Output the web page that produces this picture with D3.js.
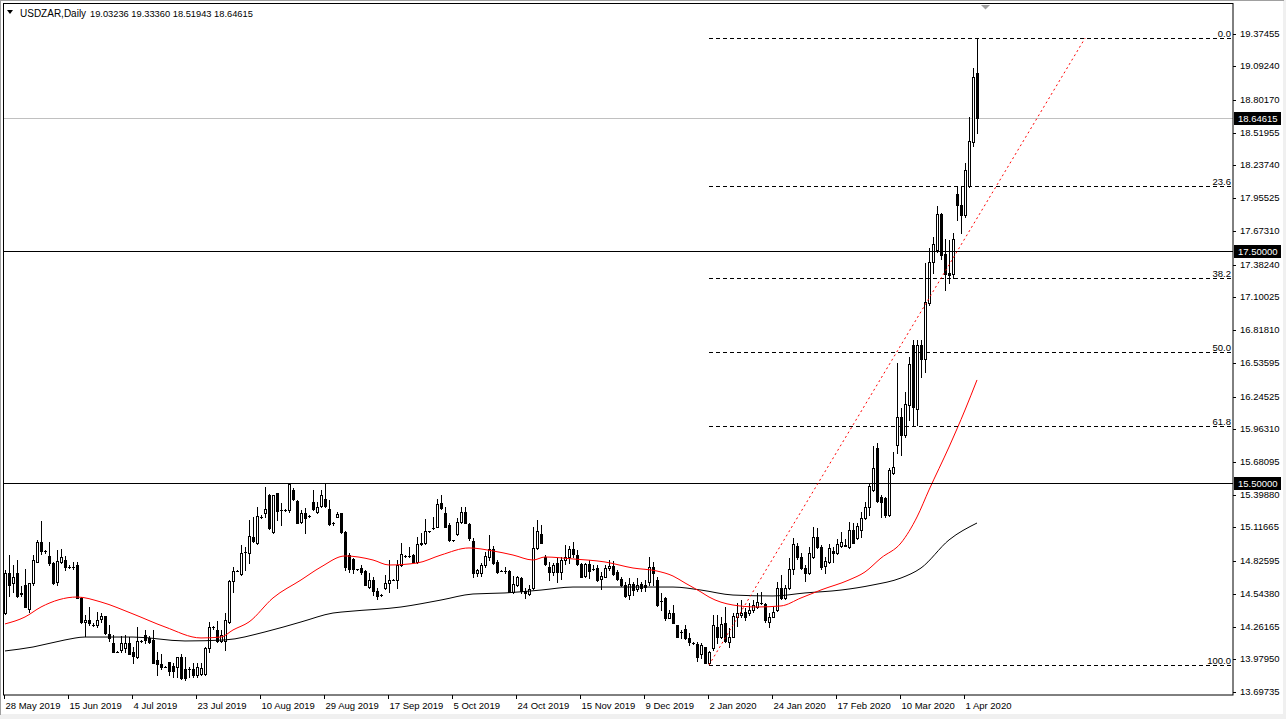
<!DOCTYPE html>
<html><head><meta charset="utf-8">
<script src="https://cdn.jsdelivr.net/npm/d3@7"></script>
<style>html,body{margin:0;padding:0;background:#f0f0f0;overflow:hidden}text{font-family:"Liberation Sans",Arial,sans-serif}</style>
</head><body><svg id="c" width="1286" height="719"></svg>
<script>
// ---- data ----
const symbolName = "USDZAR,Daily";
const titleOHLC = ["19.03236","19.33360","18.51943","18.64615"];
const opens = [14.38,14.72,14.64,14.72,14.54,14.62,14.41,14.64,14.82,14.99,14.91,14.87,14.81,14.65,14.82,14.84,14.78,14.78,14.79,14.51,
14.30,14.32,14.28,14.28,14.33,14.35,14.20,14.12,14.045,14.06,14.075,14.12,14.04,14.00,14.14,14.19,14.16,14.146,13.97,13.94,
13.916,13.96,13.92,13.916,14.00,13.893,13.893,13.893,13.845,13.853,13.853,14.075,14.255,14.233,14.14,14.14,14.30,14.658,14.744,14.715,
14.905,14.899,15.037,14.98,15.21,15.244,15.397,15.08,15.411,15.267,15.267,15.267,15.44,15.348,15.166,15.238,15.215,15.333,15.253,15.302,
15.359,15.273,15.152,15.21,15.238,15.08,14.879,14.842,14.756,14.77,14.741,14.60,14.664,14.572,14.534,14.592,14.641,14.664,14.664,14.793,
14.87,14.87,14.879,14.822,14.974,14.98,15.086,15.109,15.123,15.325,15.238,15.138,15.008,15.06,15.166,15.253,15.146,15.003,14.72,14.727,
14.793,14.859,14.928,14.822,14.744,14.744,14.741,14.557,14.621,14.678,14.572,14.543,14.592,14.937,15.057,14.865,14.779,14.735,14.807,14.735,
14.836,14.859,14.928,14.879,14.802,14.698,14.802,14.759,14.767,14.669,14.692,14.764,14.787,14.73,14.669,14.62,14.534,14.629,14.583,14.629,
14.62,14.649,14.773,14.664,14.483,14.511,14.339,14.382,14.276,14.218,14.238,14.161,14.118,14.112,14.026,14.083,13.951,14.075,14.261,14.169,
14.29,14.132,14.175,14.342,14.362,14.39,14.376,14.405,14.434,14.468,14.457,14.304,14.348,14.405,14.592,14.506,14.592,14.756,14.957,14.865,
14.764,14.727,14.865,15.037,14.945,14.784,14.822,14.917,14.894,14.957,14.968,14.945,15.095,15.023,15.095,15.195,15.29,15.44,15.799,15.376,
15.368,15.224,15.583,15.828,16.069,15.914,16.172,16.69,16.138,16.69,16.569,17.052,17.405,17.509,17.819,17.474,17.31,17.302,17.991,17.897,
17.81,18.06,18.44,19.03236];
const highs = [14.75,14.88,14.79,14.84,14.61,14.76,14.64,14.88,15.01,15.17,14.92,14.99,14.82,14.92,14.93,14.87,14.79,14.82,14.82,14.52,
14.36,14.43,14.29,14.39,14.38,14.35,14.28,14.19,14.05,14.18,14.19,14.175,14.09,14.26,14.15,14.23,14.18,14.23,14.04,14.03,
13.92,13.96,13.945,14.003,14.03,14.003,13.916,13.95,13.945,13.945,14.09,14.304,14.27,14.313,14.233,14.376,14.664,14.779,14.75,14.965,
14.95,15.181,15.21,15.296,15.22,15.468,15.405,15.397,15.417,15.325,15.28,15.497,15.454,15.353,15.267,15.282,15.22,15.44,15.339,15.44,
15.491,15.353,15.16,15.253,15.244,15.086,14.894,14.85,14.76,14.793,14.75,14.721,14.692,14.592,14.54,14.707,14.836,14.67,14.836,14.98,
14.88,14.945,14.885,15.037,15.066,15.187,15.09,15.21,15.359,15.397,15.29,15.152,15.01,15.195,15.296,15.296,15.152,15.023,14.76,14.807,
14.908,15.052,14.957,14.836,14.75,14.779,14.75,14.698,14.698,14.692,14.592,14.62,15.123,15.181,15.138,14.879,14.822,14.807,14.85,14.865,
14.965,14.957,14.994,14.922,14.807,14.813,14.836,14.793,14.793,14.735,14.793,14.836,14.83,14.75,14.692,14.649,14.678,14.649,14.678,14.649,
14.664,14.859,14.822,14.687,14.549,14.52,14.405,14.448,14.276,14.233,14.276,14.204,14.125,14.132,14.117,14.089,14.054,14.362,14.362,14.342,
14.434,14.247,14.376,14.462,14.491,14.419,14.462,14.491,14.549,14.563,14.468,14.376,14.434,14.649,14.707,14.62,14.85,15.023,14.98,14.894,
14.793,14.951,15.123,15.109,14.965,14.865,14.974,14.951,15.014,15.08,15.014,15.166,15.152,15.158,15.253,15.339,15.497,15.819,15.848,15.397,
15.382,15.626,15.77,16.534,16.147,16.284,16.586,16.733,16.733,16.733,17.397,17.526,17.621,17.888,17.827,17.603,17.595,17.655,18.052,18.06,
18.259,18.655,19.078,19.3336];
const lows = [14.37,14.53,14.56,14.52,14.53,14.43,14.39,14.62,14.82,14.89,14.90,14.79,14.63,14.62,14.81,14.75,14.77,14.76,14.51,14.29,
14.18,14.28,14.27,14.26,14.30,14.20,14.14,14.04,14.04,14.045,14.045,14.026,13.945,13.99,14.13,14.12,14.12,13.945,13.845,13.90,
13.91,13.845,13.83,13.83,13.807,13.80,13.83,13.83,13.83,13.845,13.845,14.045,14.24,14.132,14.132,14.06,14.29,14.563,14.74,14.707,
14.75,14.807,14.994,14.974,15.20,15.21,15.10,15.072,15.181,15.138,15.26,15.253,15.353,15.152,15.152,15.066,15.21,15.267,15.238,15.29,
15.296,15.138,15.14,15.21,15.072,14.75,14.735,14.721,14.75,14.715,14.62,14.592,14.534,14.497,14.53,14.583,14.563,14.66,14.592,14.784,
14.86,14.859,14.815,14.813,14.965,14.974,15.08,15.10,15.118,15.273,15.118,15.003,15.0,15.052,15.158,15.152,15.008,14.692,14.70,14.698,
14.779,14.836,14.802,14.727,14.74,14.721,14.557,14.554,14.612,14.554,14.506,14.534,14.583,14.928,14.98,14.793,14.664,14.707,14.649,14.669,
14.802,14.807,14.859,14.793,14.687,14.687,14.678,14.75,14.658,14.583,14.687,14.75,14.707,14.664,14.612,14.52,14.497,14.534,14.572,14.572,
14.572,14.62,14.62,14.439,14.405,14.319,14.333,14.29,14.175,14.161,14.152,14.103,14.11,13.968,13.988,13.951,13.931,14.06,14.118,14.161,
14.132,14.089,14.169,14.267,14.348,14.319,14.362,14.39,14.419,14.457,14.304,14.261,14.342,14.399,14.497,14.497,14.583,14.715,14.842,14.756,
14.658,14.715,14.85,14.937,14.756,14.721,14.813,14.822,14.888,14.945,14.957,14.94,14.98,15.014,15.037,15.187,15.224,15.434,15.339,15.21,
15.204,15.215,15.577,15.761,15.741,15.896,16.043,16.00,16.00,16.414,16.457,17.035,17.31,17.491,17.431,17.164,17.224,17.267,17.767,17.655,
17.793,18.052,18.405,18.51943];
const closes = [14.72,14.62,14.69,14.53,14.55,14.43,14.64,14.84,14.99,14.91,14.91,14.81,14.64,14.83,14.86,14.78,14.78,14.78,14.51,14.30,
14.32,14.29,14.28,14.32,14.35,14.21,14.16,14.04,14.045,14.12,14.12,14.03,14.008,14.14,14.14,14.15,14.13,13.95,13.94,13.91,
13.916,13.88,13.88,13.997,13.816,13.816,13.893,13.845,13.916,13.902,14.075,14.255,14.255,14.14,14.19,14.32,14.655,14.744,14.744,14.899,
14.905,15.043,15.003,15.215,15.21,15.273,15.109,15.397,15.261,15.267,15.267,15.491,15.359,15.158,15.238,15.195,15.215,15.273,15.296,15.397,
15.302,15.146,15.152,15.233,15.08,14.779,14.756,14.756,14.756,14.735,14.62,14.664,14.572,14.526,14.534,14.641,14.664,14.664,14.793,14.888,
14.87,14.87,14.822,14.974,14.985,15.086,15.086,15.109,15.319,15.282,15.123,15.008,15.008,15.166,15.253,15.158,15.023,14.727,14.75,14.793,
14.87,14.928,14.813,14.735,14.744,14.744,14.557,14.629,14.687,14.572,14.549,14.583,14.937,15.086,14.985,14.802,14.735,14.793,14.735,14.836,
14.859,14.928,14.888,14.802,14.692,14.802,14.744,14.759,14.664,14.698,14.764,14.787,14.715,14.672,14.62,14.526,14.629,14.577,14.62,14.592,
14.60,14.773,14.727,14.448,14.483,14.333,14.376,14.296,14.175,14.218,14.161,14.132,14.118,14.003,14.103,13.951,14.046,14.276,14.169,14.284,
14.141,14.175,14.353,14.376,14.382,14.342,14.405,14.448,14.477,14.468,14.319,14.348,14.391,14.592,14.506,14.592,14.756,14.974,14.859,14.764,
14.727,14.90,15.037,14.945,14.779,14.83,14.937,14.894,14.974,14.988,14.96,15.095,14.985,15.129,15.195,15.29,15.474,15.626,15.348,15.339,
15.224,15.612,15.635,16.066,15.914,16.181,16.526,16.155,16.69,16.569,17.06,17.405,17.56,17.819,17.466,17.302,17.293,17.603,17.897,17.81,
18.198,18.448,19.00,18.64615];

// moving averages (sampled at bar indices)
const maRedIdx = [0,5,9,18,24,32,40,49,54,57,61,67,74,79,85,92,96,103,109,116,122,127,132,135,142,150,157,163,167,170,174,176,182,188,194,199,204,211,215,219,224,228,231,236,240,243];
const maRedVal = [14.285,14.345,14.431,14.517,14.474,14.371,14.259,14.164,14.172,14.233,14.302,14.509,14.664,14.776,14.871,14.836,14.793,14.81,14.879,14.94,14.914,14.879,14.836,14.862,14.845,14.819,14.767,14.741,14.698,14.638,14.56,14.517,14.448,14.431,14.44,14.509,14.578,14.664,14.733,14.853,14.983,15.207,15.44,15.81,16.129,16.388];
const maBlackIdx = [0,7,15,20,32,45,55,65,74,82,86,99,109,117,125,134,142,150,159,167,174,182,192,200,209,217,224,229,236,243];
const maBlackVal = [14.052,14.086,14.147,14.172,14.172,14.138,14.147,14.216,14.302,14.379,14.393,14.431,14.491,14.543,14.552,14.577,14.603,14.603,14.603,14.603,14.577,14.534,14.526,14.552,14.577,14.621,14.681,14.767,15.009,15.155];

// x-axis date labels and the bar they sit on
const dateLabels = ["28 May 2019","15 Jun 2019","4 Jul 2019","23 Jul 2019","10 Aug 2019","29 Aug 2019","17 Sep 2019","5 Oct 2019","24 Oct 2019","15 Nov 2019","9 Dec 2019","2 Jan 2020","24 Jan 2020","17 Feb 2020","10 Mar 2020","1 Apr 2020"];
const dateIdx = [0,16,32,48,64,80,96,112,128,144,160,176,192,208,224,240];

// y-axis labels
const priceLabels = ["19.37455","19.09240","18.80170","18.51955","18.23740","17.95525","17.67310","17.38240","17.10025","16.81810","16.53595","16.24525","15.96310","15.68095","15.39880","15.11665","14.82595","14.54380","14.26165","13.97950","13.69735"];

// horizontal levels
const hLevels = [17.5, 15.5];
const bidPrice = 18.64615;

// fibonacci retracement (from swing low bar to swing high bar)
const fibLowIdx = 176, fibLow = 13.931, fibHighIdx = 243, fibHigh = 19.3336;
const fibLevels = [0.0, 23.6, 38.2, 50.0, 61.8, 100.0];

// trend line endpoints [bar index, price]
const trendLine = [[176, 13.931], [270, 19.3336]];

// ---- drawing ----
const svg = d3.select('#c');
const plotL = 4, plotR = 1233, plotT = 4, plotB = 695;

// window frame
svg.append('rect').attr('x',1).attr('y',1).attr('width',1282).attr('height',713).attr('fill','#fff');
svg.append('line').attr('x1',0.5).attr('x2',0.5).attr('y1',0).attr('y2',715).attr('stroke','#a0a0a0');
svg.append('line').attr('x1',0).attr('x2',1284).attr('y1',0.5).attr('y2',0.5).attr('stroke','#a0a0a0');

const x = d3.scaleLinear().domain([0, 243]).range([5, 977]);
const y = d3.scaleLinear().domain([13.69735, 19.37455]).range([692.1, 33.5]);
const px = i => Math.round(x(i));
const py = v => Math.round(y(v));

svg.append('defs').append('clipPath').attr('id','clip').append('rect')
  .attr('x',plotL).attr('y',plotT).attr('width',plotR-plotL).attr('height',plotB-plotT);
const g = svg.append('g').attr('clip-path','url(#clip)');

// bid line
g.append('line').attr('x1',plotL).attr('x2',plotR).attr('y1',py(bidPrice)+0.5).attr('y2',py(bidPrice)+0.5)
  .attr('stroke','#c0c0c0').attr('stroke-width',1);

// candles
const cg = g.append('g');
opens.forEach((o,i)=>{
  const h = highs[i], l = lows[i], c = closes[i];
  const cx = px(i);
  cg.append('line').attr('x1',cx+0.5).attr('x2',cx+0.5).attr('y1',py(h)).attr('y2',py(l)+1)
    .attr('stroke','#000').attr('stroke-width',1);
  const top = py(Math.max(o,c)), bot = py(Math.min(o,c));
  if (c >= o) {
    if (bot - top < 2) {
      cg.append('rect').attr('x',cx-1).attr('y',top).attr('width',3).attr('height',Math.max(bot-top,0)+1).attr('fill','#000');
    } else {
      cg.append('rect').attr('x',cx-0.5).attr('y',top+0.5).attr('width',2).attr('height',bot-top)
        .attr('fill','#fff').attr('stroke','#000').attr('stroke-width',1);
    }
  } else {
    cg.append('rect').attr('x',cx-1).attr('y',top).attr('width',3).attr('height',Math.max(bot-top,0)+1).attr('fill','#000');
  }
});

// moving averages
const maLine = d3.line().x(d=>x(d[0])).y(d=>y(d[1])).curve(d3.curveMonotoneX);
g.append('path').attr('d', maLine(maBlackIdx.map((d,k)=>[d, maBlackVal[k]])))
  .attr('fill','none').attr('stroke','#000').attr('stroke-width',1);
g.append('path').attr('d', maLine(maRedIdx.map((d,k)=>[d, maRedVal[k]])))
  .attr('fill','none').attr('stroke','#ff0000').attr('stroke-width',1);

// horizontal levels
hLevels.forEach(v=>{
  g.append('line').attr('x1',plotL).attr('x2',plotR).attr('y1',py(v)+0.5).attr('y2',py(v)+0.5)
    .attr('stroke','#000').attr('stroke-width',1);
});

// fibonacci
fibLevels.forEach(lv=>{
  const p = fibHigh - (fibHigh - fibLow) * lv / 100;
  const yy = py(p) + 0.5;
  g.append('line').attr('x1',x(fibLowIdx)).attr('x2',plotR).attr('y1',yy).attr('y2',yy)
    .attr('stroke','#000').attr('stroke-width',1).attr('stroke-dasharray','4,3');
  svg.append('text').attr('x',1231).attr('y',yy-2).attr('text-anchor','end')
    .attr('font-size','9.5px').attr('fill','#000').text(lv.toFixed(1));
});

// trend line
g.append('line').attr('x1',x(trendLine[0][0])).attr('y1',y(trendLine[0][1]))
  .attr('x2',x(trendLine[1][0])).attr('y2',y(trendLine[1][1]))
  .attr('stroke','#ff0000').attr('stroke-width',1).attr('stroke-dasharray','2,3');

// frame
svg.append('rect').attr('x',plotL-0.5).attr('y',plotT-0.5).attr('width',plotR-plotL+0.5).attr('height',plotB-plotT+0.5)
  .attr('fill','none').attr('stroke','#000').attr('stroke-width',1);

// right axis
priceLabels.forEach(s=>{
  const v = parseFloat(s);
  const yy = py(v) + 0.5;
  svg.append('line').attr('x1',plotR).attr('x2',plotR+3).attr('y1',yy).attr('y2',yy).attr('stroke','#000');
  svg.append('text').attr('x',1240).attr('y',yy-1).attr('dy','0.35em')
    .attr('font-size','9.5px').attr('fill','#000').text(s);
});

// price boxes
[...hLevels.map(v=>[v, v.toFixed(5)]), [bidPrice, bidPrice.toFixed(5)]].forEach(([v,s])=>{
  const yy = py(v) + 0.5;
  svg.append('rect').attr('x',1234).attr('y',yy-6.5).attr('width',47).attr('height',13).attr('fill','#000');
  svg.append('text').attr('x',1238).attr('y',yy).attr('dy','0.35em')
    .attr('font-size','9.5px').attr('fill','#fff').text(s);
});

// bottom axis
dateLabels.forEach((s,k)=>{
  const xx = px(dateIdx[k]) + 0.5;
  svg.append('line').attr('x1',xx-1).attr('x2',xx-1).attr('y1',plotB).attr('y2',plotB+4).attr('stroke','#000');
  svg.append('text').attr('x',xx).attr('y',709).attr('font-size','9.5px').attr('fill','#000').text(s);
});

// title
svg.append('path').attr('d','M7,10 L13,10 L10,14 Z').attr('fill','#000');
svg.append('text').attr('x',20).attr('y',17).attr('font-size','10px').attr('fill','#000').text(symbolName);
svg.append('text').attr('x',90).attr('y',17).attr('font-size','9.3px').attr('fill','#000').text(titleOHLC.join(' '));

// chart shift marker
svg.append('path').attr('d','M981,5 L990,5 L985.5,9.5 Z').attr('fill','#a0a0a0');
</script>
</body></html>
